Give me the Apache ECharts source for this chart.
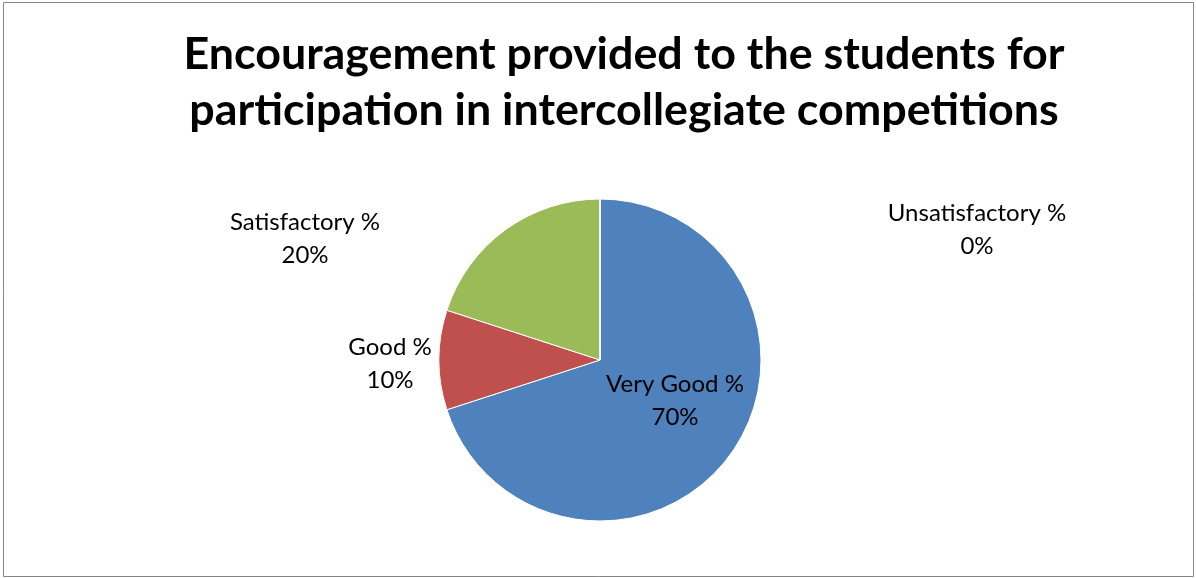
<!DOCTYPE html>
<html>
<head>
<meta charset="utf-8">
<script src="https://cdn.jsdelivr.net/npm/echarts@6/dist/echarts.min.js"></script>
<style>
  html, body { margin: 0; padding: 0; background: #fff; }
  #chart { width: 1196px; height: 578px; }
</style>
</head>
<body>
<div id="chart"></div>
<script>
const categories = ['Very Good %', 'Good %', 'Satisfactory %', 'Unsatisfactory %'];
const values = [70, 10, 20, 0];
const colors = ['#4F81BD', '#C0504D', '#9BBB59', '#8064A2'];

// where each data label sits (label centres, px)
const labelSpots = [[675, 401], [390, 364], [305, 239], [977, 230]];

const chart = echarts.init(document.getElementById('chart'));

chart.setOption({
  animation: false,
  title: {
    text: 'Encouragement provided to the students for\nparticipation in intercollegiate competitions',
    left: 619,
    top: 22,
    textAlign: 'center',
    textStyle: {
      fontFamily: 'Lato',
      fontWeight: 'bold',
      fontSize: 44.8,
      lineHeight: 56,
      color: '#000'
    }
  },
  graphic: [{
    type: 'rect',
    shape: { x: 3.5, y: 2.5, width: 1190, height: 574 },
    style: { fill: 'none', stroke: '#868686', lineWidth: 1 }
  }],
  series: [{
    type: 'pie',
    center: [600, 360],
    radius: 161,
    startAngle: 90,
    clockwise: true,
    itemStyle: { borderColor: '#fff', borderWidth: 1 },
    label: {
      show: true,
      formatter: p => p.name + '\n' + p.value + '%',
      fontFamily: 'Lato',
      fontSize: 24,
      lineHeight: 33,
      color: '#000'
    },
    labelLine: { show: false },
    labelLayout: p => ({
      x: labelSpots[p.dataIndex][0],
      y: labelSpots[p.dataIndex][1],
      align: 'center',
      verticalAlign: 'middle'
    }),
    emphasis: { disabled: true },
    data: categories.map((name, i) => ({
      name: name,
      value: values[i],
      itemStyle: { color: colors[i] }
    }))
  }]
});
</script>
</body>
</html>
